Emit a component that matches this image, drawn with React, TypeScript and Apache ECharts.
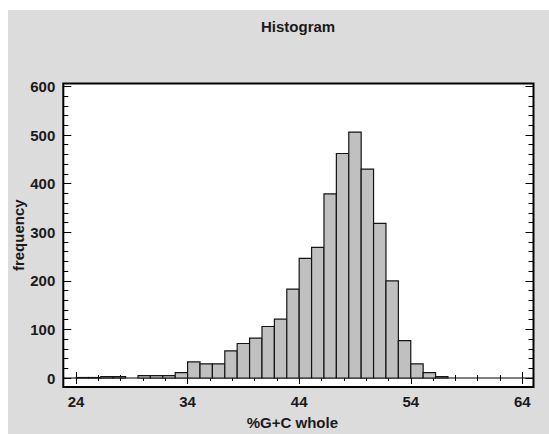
import React, { useEffect, useRef } from "react";
import * as echarts from "echarts";

// ---- data ----
const TITLE = "Histogram";
const X_NAME = "%G+C whole";
const Y_NAME = "frequency";
const BIN_START = 24;
const BIN_WIDTH = 40 / 36;
const COUNTS = [
  1, 1, 3, 3, 0, 5, 5, 5, 11, 33, 29, 29, 56, 71, 82, 106, 121, 183, 246, 269,
  379, 462, 506, 430, 318, 200, 77, 29, 11, 3, 0, 0, 0, 0, 0, 0,
];
const X_MAJOR = [24, 34, 44, 54, 64];
const X_MINOR = [26, 28, 30, 32, 36, 38, 40, 42, 46, 48, 50, 52, 56, 58, 60, 62];
const Y_MAJOR = [0, 100, 200, 300, 400, 500, 600];
const Y_MINOR = [
  20, 40, 60, 80, 120, 140, 160, 180, 220, 240, 260, 280, 320, 340, 360, 380,
  420, 440, 460, 480, 520, 540, 560, 580,
];
const X_MIN = 22.86;
const X_MAX = 65.0;
const Y_MIN = -18.5;
const Y_MAX = 606;

const FONT = "'Liberation Sans', Arial, sans-serif";
const TEXT_COLOR = "#1a1a1a";

export default function App() {
  const ref = useRef<HTMLDivElement>(null);

  useEffect(() => {
    if (!ref.current) return;
    const chart = echarts.init(ref.current, null, { renderer: "svg" });

    const binData = COUNTS.map((c, k) => [
      BIN_START + k * BIN_WIDTH,
      BIN_START + (k + 1) * BIN_WIDTH,
      c,
    ]);

    const hidden = {
      type: "value" as const,
      splitLine: { show: false },
      axisLine: { show: false },
      axisLabel: { show: false },
    };

    const xAxis = (position: string, values: number[], len: number, main = false) => ({
      ...hidden,
      min: X_MIN,
      max: X_MAX,
      position,
      axisTick: {
        show: true,
        inside: true,
        length: len,
        customValues: values,
        lineStyle: { color: "#000", width: 1 },
      },
      ...(main
        ? {
            name: X_NAME,
            nameLocation: "middle",
            nameGap: 28,
            nameMoveOverlap: false,
            nameTextStyle: {
              fontFamily: FONT,
              fontSize: 15,
              fontWeight: "bold",
              color: TEXT_COLOR,
              padding: [0, 12, 0, 0],
            },
            axisLabel: {
              show: true,
              customValues: X_MAJOR,
              margin: 7,
              fontFamily: FONT,
              fontSize: 15,
              fontWeight: "bold",
              color: TEXT_COLOR,
            },
          }
        : {}),
    });

    const yAxis = (position: string, values: number[], len: number, main = false) => ({
      ...hidden,
      min: Y_MIN,
      max: Y_MAX,
      position,
      axisTick: {
        show: true,
        inside: true,
        length: len,
        customValues: values,
        lineStyle: { color: "#000", width: 1 },
      },
      ...(main
        ? {
            name: Y_NAME,
            nameLocation: "middle",
            nameGap: 37,
            nameMoveOverlap: false,
            nameTextStyle: { fontFamily: FONT, fontSize: 15, fontWeight: "bold", color: TEXT_COLOR },
            axisLabel: {
              show: true,
              customValues: Y_MAJOR,
              margin: 8,
              fontFamily: FONT,
              fontSize: 15,
              fontWeight: "bold",
              color: TEXT_COLOR,
            },
          }
        : {}),
    });

    chart.setOption({
      animation: false,
      backgroundColor: "#dcdcdc",
      title: {
        text: TITLE,
        left: 253,
        top: 9,
        padding: 0,
        textStyle: { fontFamily: FONT, fontSize: 15, fontWeight: "bold", color: TEXT_COLOR },
      },
      grid: {
        left: 55.3,
        right: 15.5,
        top: 73.5,
        bottom: 47,
        containLabel: false,
        outerBoundsMode: "none",
        show: true,
        backgroundColor: "#ffffff",
        borderColor: "#000",
        borderWidth: 2,
      },
      xAxis: [
        xAxis("bottom", X_MAJOR, 6, true),
        xAxis("bottom", X_MINOR, 3),
        xAxis("top", X_MAJOR, 6),
        xAxis("top", X_MINOR, 3),
      ],
      yAxis: [
        yAxis("left", Y_MAJOR, 8, true),
        yAxis("left", Y_MINOR, 5),
        yAxis("right", Y_MAJOR, 8),
        yAxis("right", Y_MINOR, 5),
      ],
      series: [
        {
          type: "line",
          xAxisIndex: 0,
          yAxisIndex: 0,
          data: [
            [X_MIN, 0],
            [X_MAX, 0],
          ],
          symbol: "none",
          lineStyle: { color: "#000", width: 1 },
          z: 1,
        },
        {
          type: "custom",
          xAxisIndex: 0,
          yAxisIndex: 0,
          z: 2,
          encode: { x: [0, 1], y: 2 },
          data: binData,
          renderItem: (params: any, api: any) => {
            const x0 = api.value(0);
            const x1 = api.value(1);
            const v = api.value(2);
            if (!v) return null;
            const p0 = api.coord([x0, v]);
            const p1 = api.coord([x1, 0]);
            return {
              type: "rect",
              shape: { x: p0[0], y: p0[1], width: p1[0] - p0[0], height: p1[1] - p0[1] },
              style: { fill: "#c0c0c0", stroke: "#151515", lineWidth: 1.2 },
            };
          },
        },
      ],
    });

    return () => chart.dispose();
  }, []);

  return (
    <div
      ref={ref}
      style={{ position: "absolute", left: 8, top: 10, width: 541, height: 424 }}
    />
  );
}
